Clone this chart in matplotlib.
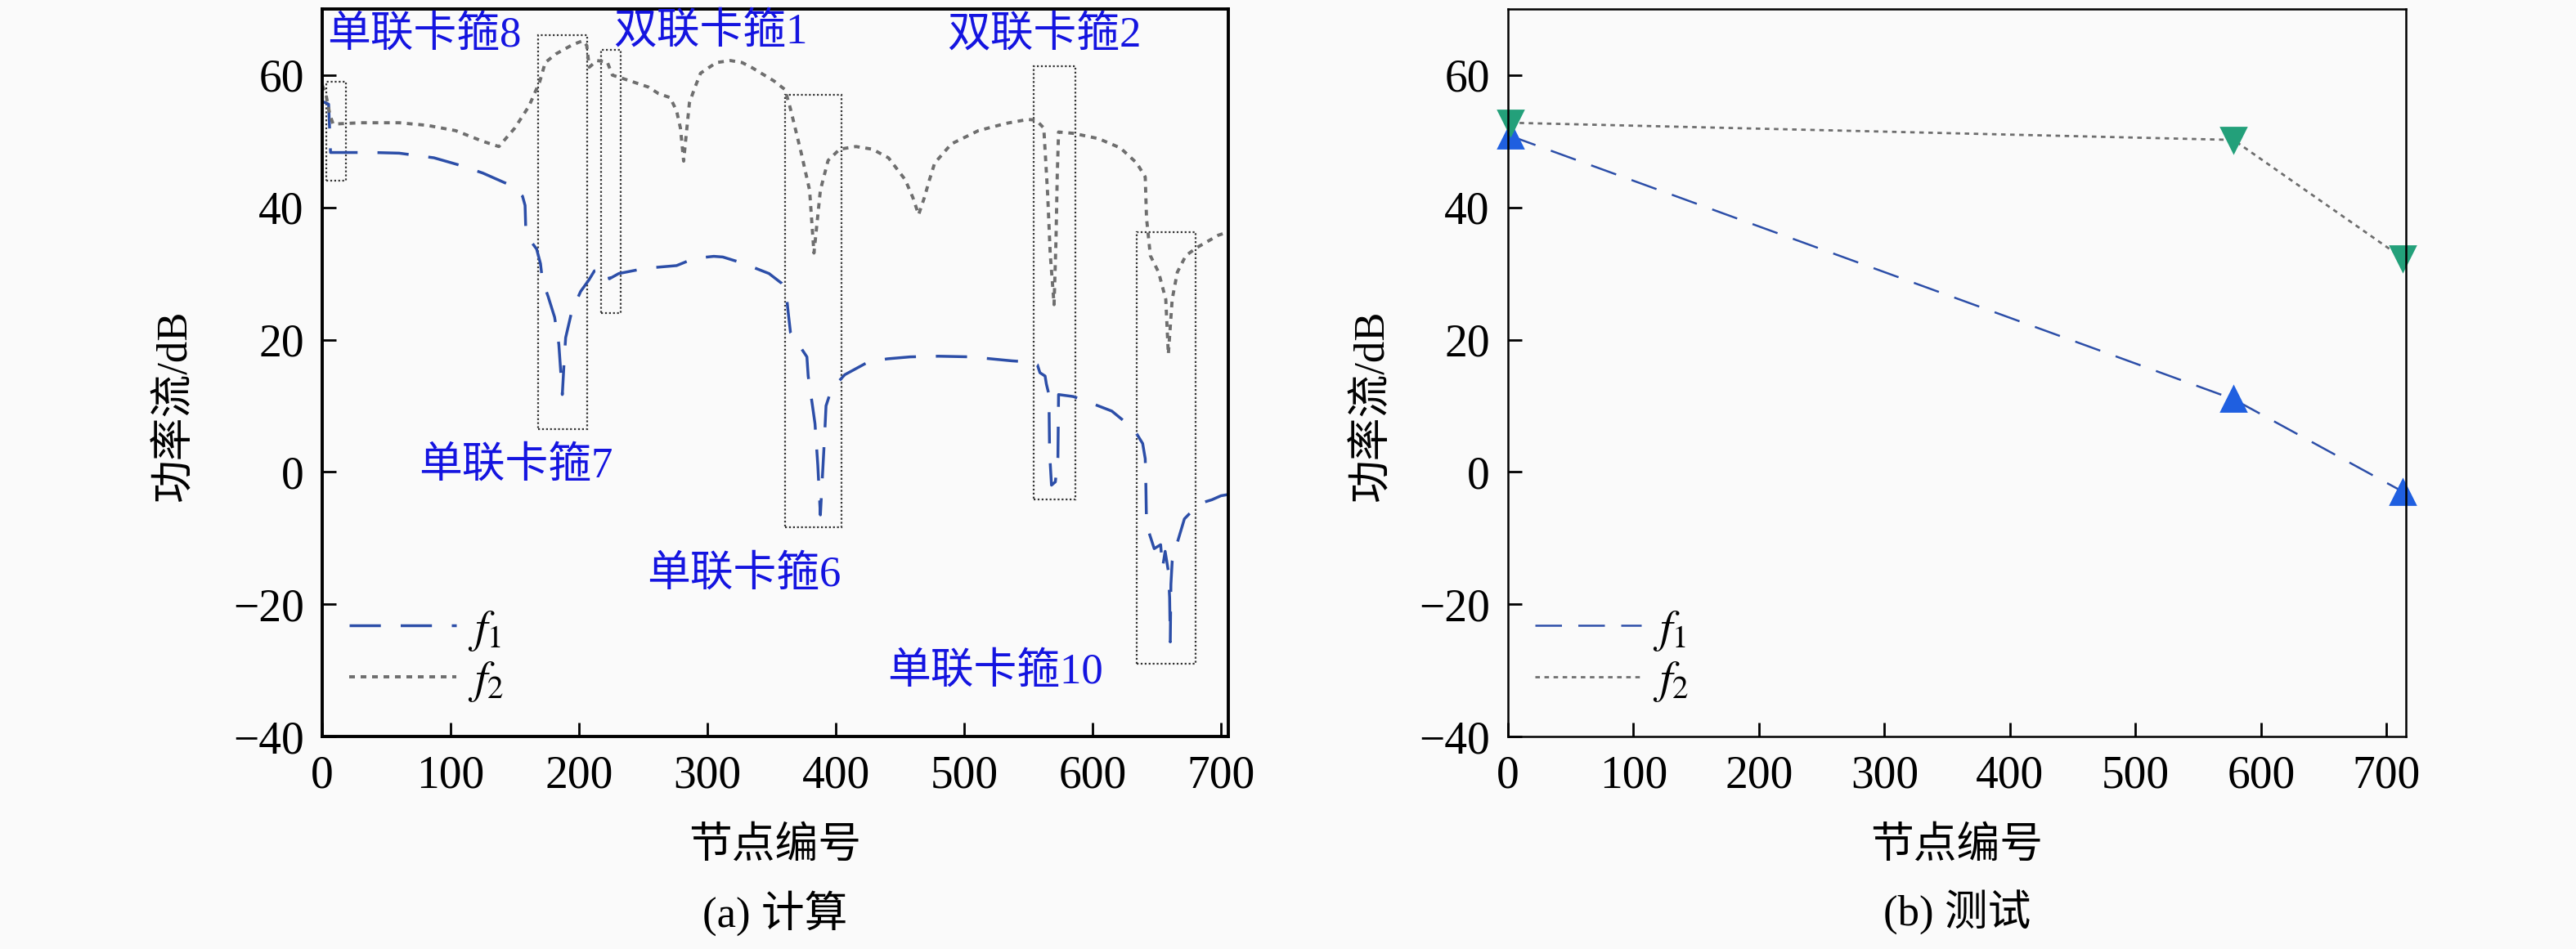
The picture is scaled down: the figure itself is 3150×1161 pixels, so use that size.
import matplotlib
matplotlib.use("Agg")
import matplotlib.pyplot as plt
from matplotlib.patches import Rectangle

plt.rcParams['font.family'] = ['Liberation Serif', 'Noto Sans CJK SC']
plt.rcParams['mathtext.fontset'] = 'stix'
plt.rcParams['axes.unicode_minus'] = True

# (a) calculated power flow along the pipe
calc_x_f1 = [0, 3, 5, 6.5, 20, 40, 60, 87, 105, 125, 146, 156, 158, 158.5, 159, 167,
             170, 171.5, 176, 181, 184.3, 187, 188.5, 189.6, 194.5, 201.3, 207.6, 212,
             222.5, 223.6, 231, 252, 276, 290, 305, 312, 327, 348, 358, 361, 363, 364.7,
             372, 377.5, 378.5, 381.7, 383.8, 386, 388, 389.5, 391.3, 392.4, 396.6, 407,
             425, 440, 458, 480, 505, 537, 552, 557, 559, 563, 564, 566, 566.5, 568, 571,
             573, 573.5, 585, 599, 615, 632, 639, 641, 641.5, 642, 648, 653, 654.5, 656.5,
             659, 660, 660.5, 661, 662, 665.5, 671.5, 683, 693, 700, 706]
calc_f1 = [56, 55.8, 55.6, 48.3, 48.3, 48.3, 48.2, 47.5, 46.5, 45.2, 43.4, 41.7, 40.3, 37, 35.8, 33.7,
           31.5, 29, 26.5, 23.4, 19.3, 11.7, 17, 20.3, 24.4, 27.3, 29, 30.4,
           30.6, 29.2, 30, 30.8, 31.2, 32.3, 32.6, 32.5, 31.6, 30, 28.5, 27.7, 24, 21.1,
           19, 17.4, 14.5, 10.2, 7.3, 1, -6.5, -1, 5.5, 10, 12.5, 14.7,
           16.6, 17.1, 17.4, 17.5, 17.4, 16.8, 16.6, 16.2, 15, 14.5, 13.3, 11.7, 3, -2, -1.5,
           2.2, 11.7, 11.4, 10.4, 9.2, 6.5, 4.3, 2, -2, -8, -11.6, -11, -14.5, -12,
           -15, -19, -25.7, -17, -13.5, -11, -7.1, -4.8, -4.2, -3.6, -3.4]

calc_x_f2 = [0, 3, 6, 8.5, 30, 60, 82, 104, 125, 137.6, 150, 161, 169.4, 173.7, 182, 195, 203,
             206, 208, 214, 222, 226, 234, 254, 262, 271, 276, 279, 281.5, 283, 286, 290,
             294.7, 307, 318, 327, 335, 352, 360.5, 364.7, 373, 379.6, 383, 388, 394, 403,
             415.7, 428.5, 441, 454, 460, 464.5, 469, 473, 477, 490, 511, 532.5, 549.5, 556,
             562, 565, 567, 570, 571.5, 572.5, 573.5, 585, 604.6, 621.6, 634.4, 641, 642,
             645, 651.4, 657, 659, 662, 666, 672.6, 681, 698, 706]
calc_f2 = [58.5, 57, 54, 52.6, 52.8, 52.8, 52.4, 51.6, 50, 49.2, 52, 55.3, 59, 61.9, 63.2, 64.6, 65.2,
           64.5, 61.2, 62.2, 62, 60, 59.5, 58.2, 57.2, 56.6, 54.6, 52, 47, 50, 55.8, 58,
           60.3, 61.9, 62.2, 61.9, 61.1, 59.1, 57.8, 54.9, 48.3, 42.6, 33.1, 42.6, 47.1, 48.8,
           49.2, 48.8, 47.5, 44.2, 41.5, 38.9, 41.5, 44.2, 46.7, 49.6, 51.6, 52.7, 53.3, 53.2,
           52, 42, 33, 25.3, 35, 45, 51.4, 51.2, 50.4, 49, 46.7, 44.6, 38.4,
           32.7, 30.2, 26.1, 17.8, 26.1, 30.2, 32.7, 33.9, 35.8, 36.3]

# (b) measured
test_x = [2, 578, 713]
test_f1 = [50.8, 11.0, -3.0]
test_f2 = [52.8, 50.2, 32.3]

# clamp boxes: label, text anchor (x, y), box (x0, x1, y0, y1)
clamp_labels = ['单联卡箍8', '双联卡箍1', '双联卡箍2', '单联卡箍7', '单联卡箍6', '单联卡箍10']
label_x = [4, 227, 487, 75, 253, 440]
label_y = [66, 66.5, 66, 0.9, -15.5, -30.3]
box_x0 = [3, 217, 554, 168, 360.5, 634.5]
box_x1 = [18.5, 232.5, 586.5, 206.5, 404.5, 680]
box_y0 = [44, 24, -4.2, 6.5, -8.3, -29]
box_y1 = [59, 63.8, 61.3, 66, 57, 36.2]

bg = '#fafafa'
f1_line = '#2c4ea8'
f2_line = '#6e6e6e'
label_blue = '#1414e0'

fig = plt.figure(figsize=(15.75, 5.805), dpi=200, facecolor=bg)
W, H = 3150.0, 1161.0
ax1 = fig.add_axes([394 / W, 1 - 901 / H, (1502 - 394) / W, 890 / H], facecolor=bg)
ax2 = fig.add_axes([1844 / W, 1 - 901 / H, (2941.5 - 1844) / W, 890 / H], facecolor=bg)

ax1.plot(calc_x_f1, calc_f1, color=f1_line, lw=1.25, dashes=(11, 7), label='$f_1$')
ax1.plot(calc_x_f2, calc_f2, color=f2_line, lw=1.4, dashes=(1.8, 1.8), label='$f_2$')

for i in range(len(clamp_labels)):
    ax1.add_patch(Rectangle((box_x0[i], box_y0[i]), box_x1[i] - box_x0[i], box_y1[i] - box_y0[i],
                            fill=False, edgecolor='#333333', lw=0.8, ls=(0, (1, 1.2))))
    ax1.text(label_x[i], label_y[i], clamp_labels[i], color=label_blue, fontsize=19,
             ha='left', va='center')

ax2.plot(test_x, test_f1, color=f1_line, lw=0.9, dashes=(13, 8), label='$f_1$')
ax2.plot(test_x, test_f2, color=f2_line, lw=1.0, dashes=(2, 2), label='$f_2$')
ax2.plot(test_x, test_f1, ls='none', marker='^', ms=10.5, color='#1f5fe0', clip_on=False)
ax2.plot(test_x, test_f2, ls='none', marker='v', ms=10.5, color='#23a07a', clip_on=False)

ax1.set_xlim(0, 705.7)
ax2.set_xlim(0, 715)
for ax, lw, lx in [(ax1, 1.4, -0.14), (ax2, 0.9, -0.129)]:
    ax.set_ylim(-40, 70)
    ax.set_xticks(range(0, 701, 100))
    ax.set_yticks(range(-40, 61, 20))
    ax.tick_params(direction='in', length=6, width=1.0, labelsize=20, pad=8,
                   top=False, right=False)
    for s in ax.spines.values():
        s.set_linewidth(lw)
    ax.set_xlabel('节点编号', fontsize=19)
    ax.set_ylabel('功率流/dB', fontsize=19)
    ax.xaxis.set_label_coords(0.5, -0.124)
    ax.yaxis.set_label_coords(lx, 0.455)
    ax.legend(loc='lower left', bbox_to_anchor=(0.03, 0.045), frameon=False, fontsize=20,
              handlelength=2.35, handletextpad=0.25, labelspacing=0.15,
              borderpad=0, borderaxespad=0)

ax1.text(0.5, -0.211, '(a) 计算', transform=ax1.transAxes, ha='center', va='top', fontsize=19)
ax2.text(0.5, -0.211, '(b) 测试', transform=ax2.transAxes, ha='center', va='top', fontsize=19)

fig.savefig('out.png', dpi=200, facecolor=bg)
